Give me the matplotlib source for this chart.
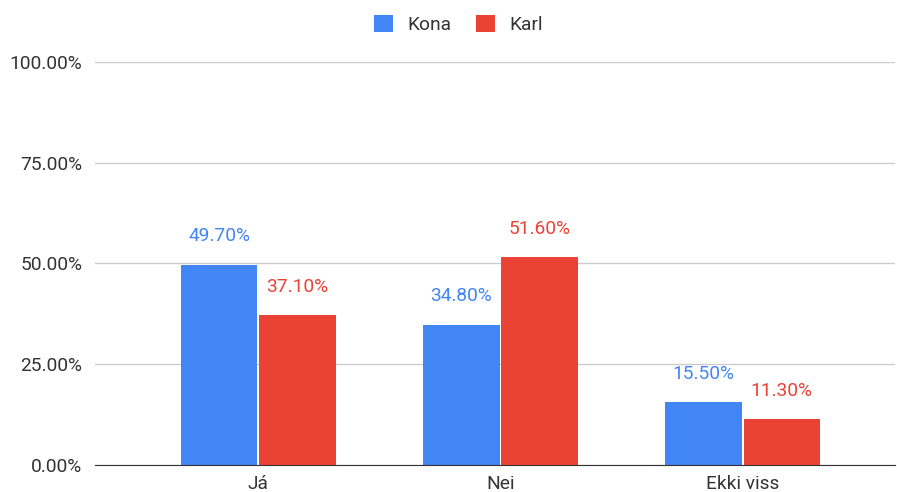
import matplotlib.pyplot as plt
import numpy as np
from matplotlib.ticker import PercentFormatter

plt.rcParams['font.family'] = ['Roboto', 'DejaVu Sans']

categories = ['Já', 'Nei', 'Ekki viss']
kona = [49.7, 34.8, 15.5]
karl = [37.1, 51.6, 11.3]
series_names = ['Kona', 'Karl']
blue = '#4285F4'
red = '#EA4335'

fig = plt.figure(figsize=(8.97, 4.92), dpi=100)
ax = fig.add_axes([0.106, 0.055, 0.892, 0.819])

x = np.arange(len(categories))
w = 0.315
gap = 0.004
b1 = ax.bar(x - w / 2 - gap, kona, w, color=blue, label=series_names[0], zorder=3)
b2 = ax.bar(x + w / 2 + gap, karl, w, color=red, label=series_names[1], zorder=3)

for bars, col in ((b1, blue), (b2, red)):
    for r in bars:
        ax.annotate(f'{r.get_height():.2f}%', (r.get_x() + r.get_width() / 2, r.get_height()),
                    xytext=(0, 14), textcoords='offset points', ha='center', va='bottom',
                    color=col, fontsize=13.8)

ax.set_xlim(-0.674, 2.63)
ax.set_ylim(0, 100)
ax.set_yticks([0, 25, 50, 75, 100])
ax.yaxis.set_major_formatter(PercentFormatter(decimals=2))
ax.set_xticks(x)
ax.set_xticklabels(categories)
ax.tick_params(axis='both', length=0, labelsize=13.8, colors='#333333')
ax.tick_params(axis='x', pad=7)
ax.tick_params(axis='y', pad=9)
ax.grid(axis='y', color='#cccccc', linewidth=1, zorder=0)
for s in ['top', 'right', 'left']:
    ax.spines[s].set_visible(False)
ax.spines['bottom'].set_color('#333333')
ax.spines['bottom'].set_zorder(4)

fig.legend(handles=[b1, b2], loc='upper center', bbox_to_anchor=(0.511, 1.005), ncol=2,
           frameon=False, fontsize=13.8, handlelength=1.0, handleheight=1.0,
           columnspacing=1.3, handletextpad=0.75, labelcolor='#333333')

fig.savefig('out.png', dpi=100)
